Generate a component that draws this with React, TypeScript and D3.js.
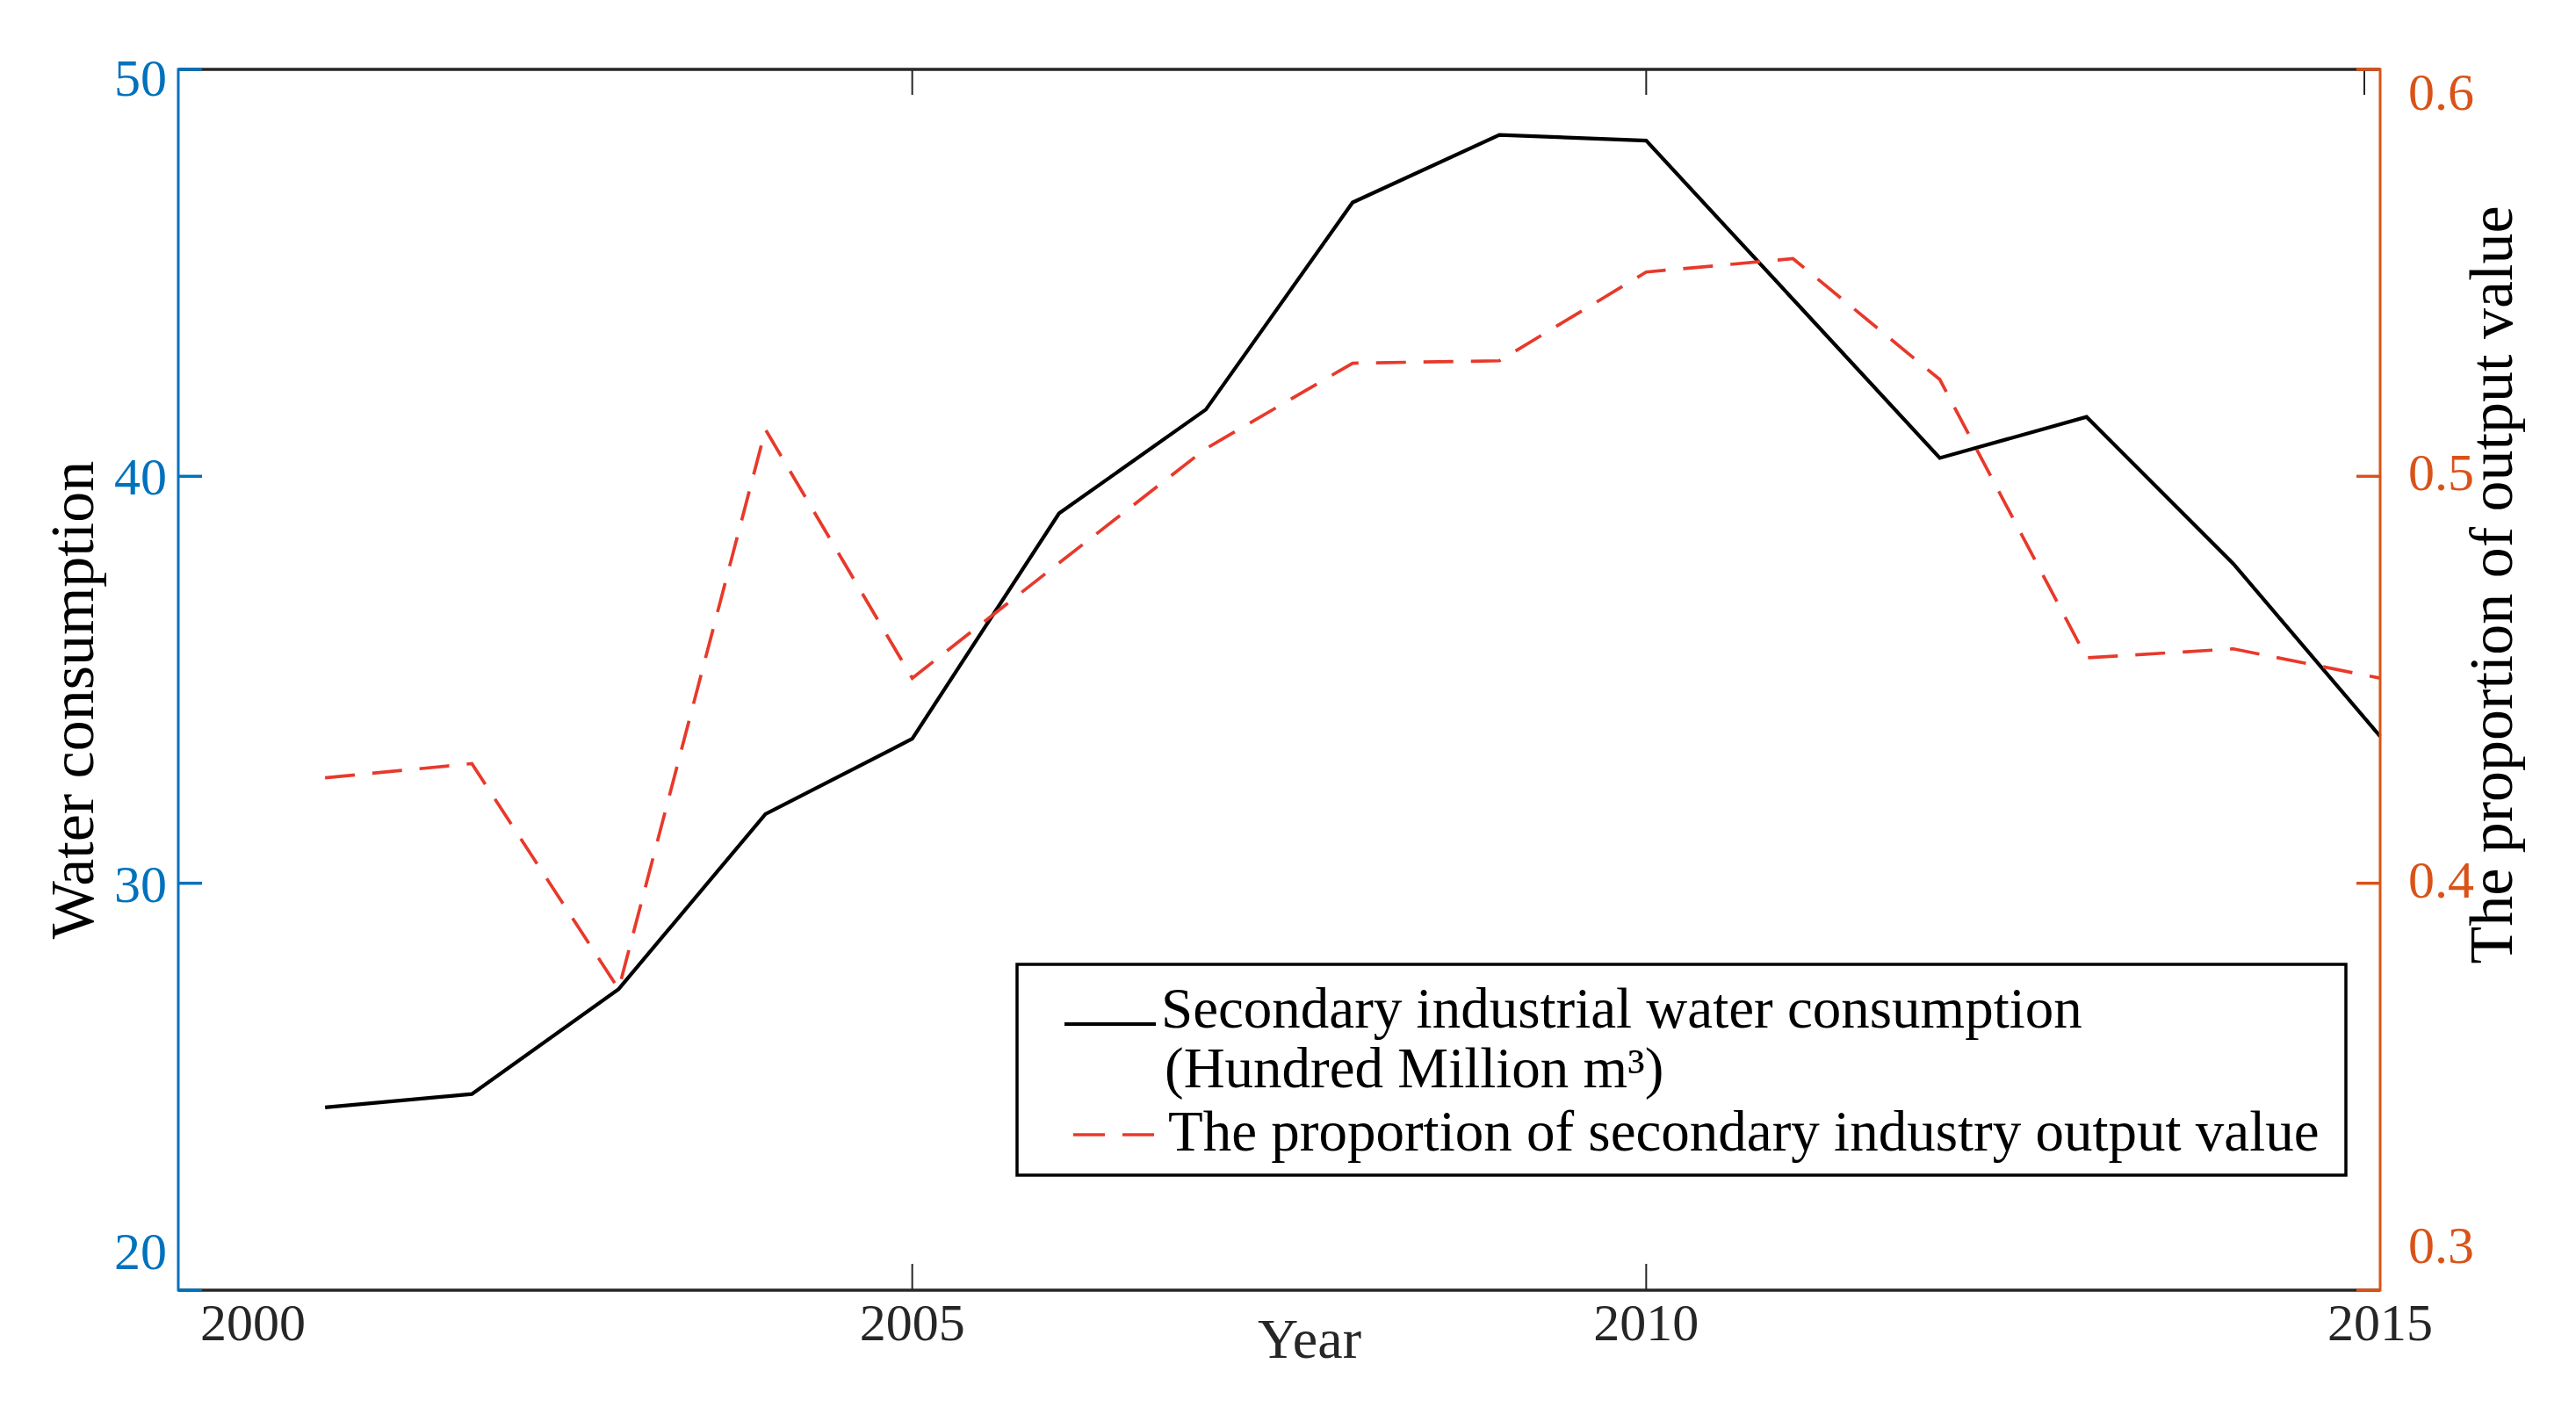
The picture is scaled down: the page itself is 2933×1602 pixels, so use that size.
import React from "react";
import * as d3 from "d3";

const years = [2001, 2002, 2003, 2004, 2005, 2006, 2007, 2008, 2009, 2010, 2011, 2012, 2013, 2014, 2015];
const waterConsumption = [24.49, 24.82, 27.4, 31.7, 33.55, 39.09, 41.64, 46.73, 48.39, 48.25, 44.35, 40.45, 41.46, 37.85, 33.61];
const outputProportion = [0.4259, 0.4294, 0.374, 0.5115, 0.4504, 0.4787, 0.5068, 0.5278, 0.5284, 0.5502, 0.5535, 0.5238, 0.4554, 0.4576, 0.4504];
const xTicks = [2000, 2005, 2010, 2015];
const leftTicks = [20, 30, 40, 50];
const rightTicks = [0.3, 0.4, 0.5, 0.6];

const W = 2933;
const H = 1602;
const L = 203, R = 2710, T = 79, B = 1469;
const BLUE = "#0072BD";
const ORANGE = "#D95319";
const AX = "#262626";
const RED = "#E8392A";
const FONT = "'Liberation Serif', 'Times New Roman', serif";

export default function App() {
  const x = d3.scaleLinear().domain([2000, 2015]).range([L, R]);
  const yL = d3.scaleLinear().domain([20, 50]).range([B, T]);
  const yR = d3.scaleLinear().domain([0.3, 0.6]).range([B, T]);

  const lineW = d3.line<number>().x((_, i) => x(years[i])).y((d) => yL(d));
  const lineP = d3.line<number>().x((_, i) => x(years[i])).y((d) => yR(d));

  const tickLen = 27;
  const tickFs = 60;

  const leftLabelY = (v: number) => {
    const c = yL(v);
    if (v === 50) return c + 9;
    if (v === 20) return c - 45;
    return c;
  };
  const rightLabelY = (v: number) => {
    const c = yR(v);
    if (v === 0.6) return c + 25;
    if (v === 0.3) return c - 52;
    return c - 5;
  };
  const xLabelX = (t: number) => (t === 2000 ? x(t) + 85 : x(t));

  const legX = 1158, legY = 1098, legW = 1513, legH = 240;

  return (
    <svg
      width={W}
      height={H}
      style={{ position: "fixed", left: 0, top: 0, display: "block", background: "#fff" }}
      fontFamily={FONT}
    >
      <rect x={0} y={0} width={W} height={H} fill="#fff" />

      {/* data lines */}
      <path d={lineW(waterConsumption) || ""} fill="none" stroke="#000" strokeWidth={4.2} strokeLinejoin="miter" />
      <path d={lineP(outputProportion) || ""} fill="none" stroke={RED} strokeWidth={3.7} strokeDasharray="34 20" />

      {/* x ticks bottom and top */}
      {xTicks.filter((t) => t > 2000 && t < 2015).map((t) => (
        <g key={"xt" + t}>
          <line x1={x(t)} x2={x(t)} y1={B} y2={B - tickLen - 3} stroke={AX} strokeWidth={2} />
          <line x1={x(t)} x2={x(t)} y1={T} y2={T + tickLen + 2} stroke={AX} strokeWidth={2} />
        </g>
      ))}
      <line x1={x(2015) - 18} x2={x(2015) - 18} y1={T} y2={T + tickLen + 2} stroke={AX} strokeWidth={2} />

      {/* top and bottom axis lines */}
      <line x1={L} x2={R} y1={T} y2={T} stroke={AX} strokeWidth={3.5} />
      <line x1={L} x2={R} y1={B} y2={B} stroke={AX} strokeWidth={3.5} />

      {/* left axis */}
      <line x1={L} x2={L} y1={T - 1.5} y2={B + 1.5} stroke={BLUE} strokeWidth={3} />
      {leftTicks.map((v) => (
        <line key={"lt" + v} x1={L} x2={L + tickLen} y1={yL(v)} y2={yL(v)} stroke={BLUE} strokeWidth={3.5} />
      ))}
      {leftTicks.map((v) => (
        <text key={"ll" + v} x={190} y={leftLabelY(v)} dy="0.35em" textAnchor="end" fontSize={tickFs} fill={BLUE}>
          {v}
        </text>
      ))}

      {/* right axis */}
      <line x1={R} x2={R} y1={T - 1.5} y2={B + 1.5} stroke={ORANGE} strokeWidth={3} />
      {rightTicks.map((v) => (
        <line key={"rt" + v} x1={R} x2={R - tickLen} y1={yR(v)} y2={yR(v)} stroke={ORANGE} strokeWidth={3.5} />
      ))}
      {rightTicks.map((v) => (
        <text key={"rl" + v} x={2742} y={rightLabelY(v)} dy="0.35em" textAnchor="start" fontSize={tickFs} fill={ORANGE}>
          {v.toFixed(1)}
        </text>
      ))}

      {/* x tick labels */}
      {xTicks.map((t) => (
        <text key={"xl" + t} x={xLabelX(t)} y={1526} textAnchor="middle" fontSize={tickFs} fill={AX}>
          {t}
        </text>
      ))}

      {/* axis titles */}
      <text x={1491} y={1546} textAnchor="middle" fontSize={64} fill={AX}>
        Year
      </text>
      <text transform={`translate(106, 797) rotate(-90)`} textAnchor="middle" fontSize={70} fill="#000">
        Water consumption
      </text>
      <text transform={`translate(2860, 666) rotate(-90)`} textAnchor="middle" fontSize={70} fill="#000">
        The proportion of output value
      </text>

      {/* legend */}
      <rect x={legX} y={legY} width={legW} height={legH} fill="#fff" stroke="#000" strokeWidth={3.5} />
      <line x1={1212} x2={1316} y1={1166} y2={1166} stroke="#000" strokeWidth={4} />
      <line x1={1222} x2={1314} y1={1292} y2={1292} stroke={RED} strokeWidth={3.5} strokeDasharray="36 20" />
      <text x={1322} y={1170} fontSize={65} fill="#000">
        Secondary industrial water consumption
      </text>
      <text x={1326} y={1238} fontSize={65} fill="#000">
        (Hundred Million m³)
      </text>
      <text x={1330} y={1310} fontSize={65} fill="#000">
        The proportion of secondary industry output value
      </text>
    </svg>
  );
}
